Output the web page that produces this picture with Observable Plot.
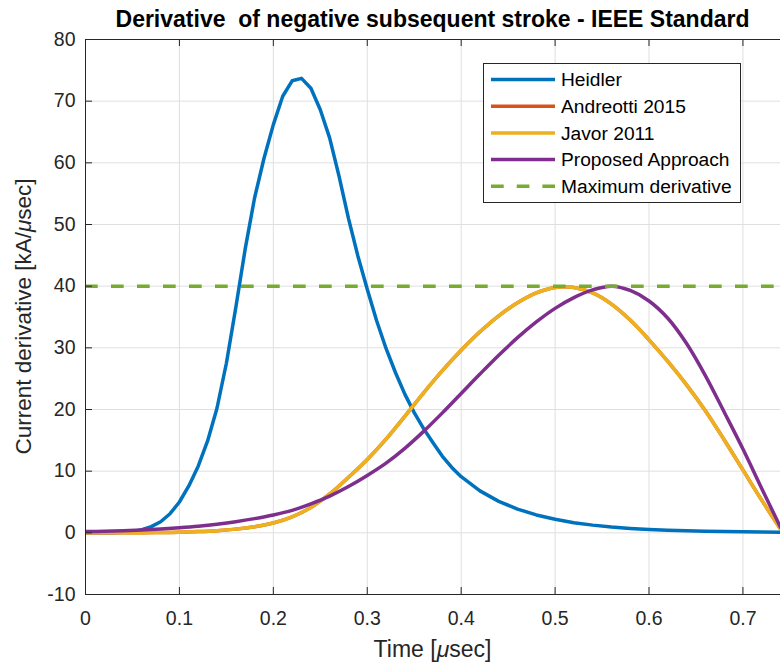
<!DOCTYPE html>
<html><head><meta charset="utf-8">
<script src="https://cdn.jsdelivr.net/npm/d3@7"></script>
<script src="https://cdn.jsdelivr.net/npm/@observablehq/plot@0.6"></script>
<style>body{margin:0;background:#fff} svg{display:block}</style>
</head><body><div id="chart"></div>
<script>
// Heidler (sampled every 0.01 µs up to 0.40, then every 0.02 µs)
const timeHeidler = [0,0.01,0.02,0.03,0.04,0.05,0.06,0.07,0.08,0.09,0.10,0.11,0.12,0.13,0.14,0.15,0.16,0.17,0.18,0.19,0.20,0.21,0.22,0.23,0.24,0.25,0.26,0.27,0.28,0.29,0.30,0.31,0.32,0.33,0.34,0.35,0.36,0.37,0.38,0.39,0.40,0.42,0.44,0.46,0.48,0.50,0.52,0.54,0.56,0.58,0.60,0.62,0.64,0.66,0.68,0.70,0.72,0.74];
const heidler = [0,0,0.01,0.03,0.08,0.2,0.5,1.0,1.8,3.1,5.0,7.6,10.8,14.9,20.2,27.5,36.5,46.0,54.3,60.7,66.2,70.8,73.3,73.7,72.1,68.6,64.0,57.8,51.0,44.9,39.5,34.4,29.9,26.0,22.5,19.5,16.9,14.6,12.4,10.6,9.1,6.8,5.1,3.85,2.9,2.2,1.65,1.25,0.95,0.72,0.55,0.42,0.33,0.26,0.21,0.17,0.14,0.11];

// Other models (sampled every 0.02 µs)
const time = [0,0.02,0.04,0.06,0.08,0.10,0.12,0.14,0.16,0.18,0.20,0.22,0.24,0.26,0.28,0.30,0.32,0.34,0.36,0.38,0.40,0.42,0.44,0.46,0.48,0.50,0.52,0.54,0.56,0.58,0.60,0.62,0.64,0.66,0.68,0.70,0.72,0.74];
const andreotti = [0,0,0,0.02,0.05,0.1,0.2,0.35,0.6,1.0,1.6,2.6,4.1,6.3,9.0,11.9,15.2,18.9,22.7,26.3,29.6,32.6,35.2,37.3,38.9,39.8,39.8,38.9,37.1,34.5,31.3,27.8,24.0,19.8,15.1,10.2,5.3,0.6];
const javor     = [0,0,0,0.02,0.05,0.1,0.2,0.35,0.6,1.0,1.6,2.6,4.1,6.3,9.0,11.9,15.2,18.9,22.7,26.3,29.6,32.6,35.2,37.3,38.9,39.8,39.8,38.9,37.1,34.5,31.3,27.8,24.0,19.8,15.1,10.2,5.3,0.6];
const proposed  = [0.2,0.25,0.33,0.45,0.62,0.83,1.08,1.4,1.8,2.3,2.9,3.65,4.7,5.95,7.5,9.3,11.3,13.7,16.45,19.45,22.6,25.75,28.8,31.65,34.2,36.4,38.15,39.4,40.0,39.3,37.6,34.8,30.7,25.5,19.6,13.6,7.2,0.9];
const maxDerivative = 40;

const seriesNames = ["Heidler","Andreotti 2015","Javor 2011","Proposed Approach","Maximum derivative"];
const seriesColors = ["#0072BD","#D95319","#EDB120","#7E2F8E","#77AC30"];
const xTicks = [0,0.1,0.2,0.3,0.4,0.5,0.6,0.7];
const yTicks = [-10,0,10,20,30,40,50,60,70,80];
const titleText = "Derivative  of negative subsequent stroke - IEEE Standard";
const xLabelParts = ["Time [","\u03bc","sec]"];
const yLabelParts = ["Current derivative [kA/","\u03bc","sec]"];

const rowsH = timeHeidler.map((t,i)=>({t, v: heidler[i]}));
const rowsA = time.map((t,i)=>({t, v: andreotti[i]}));
const rowsJ = time.map((t,i)=>({t, v: javor[i]}));
const rowsP = time.map((t,i)=>({t, v: proposed[i]}));

const W = 780, H = 664, mL = 85, mR = 0, mT = 39, mB = 70;
const fw = W - mL - mR, fh = H - mT - mB;
const axisColor = "#262626";
const lw = 3.5;
const font = "'Liberation Sans', Arial, Helvetica, sans-serif";

const plot = Plot.plot({
  width: W, height: H,
  marginLeft: mL, marginRight: mR, marginTop: mT, marginBottom: mB,
  style: {fontFamily: font, fontSize: "19.5px", color: axisColor, background: "#fff", overflow: "visible"},
  x: {domain: [0, 0.74]},
  y: {domain: [-10, 80]},
  marks: [
    Plot.gridX(xTicks, {stroke: "#dfdfdf", strokeOpacity: 1}),
    Plot.gridY(yTicks, {stroke: "#dfdfdf", strokeOpacity: 1}),
    Plot.line(rowsH, {x: "t", y: "v", stroke: seriesColors[0], strokeWidth: lw, clip: true}),
    Plot.line(rowsA, {x: "t", y: "v", stroke: seriesColors[1], strokeWidth: lw, curve: "catmull-rom", clip: true}),
    Plot.line(rowsJ, {x: "t", y: "v", stroke: seriesColors[2], strokeWidth: lw, curve: "catmull-rom", clip: true}),
    Plot.line(rowsP, {x: "t", y: "v", stroke: seriesColors[3], strokeWidth: lw, curve: "catmull-rom", clip: true}),
    Plot.ruleY([maxDerivative], {stroke: seriesColors[4], strokeWidth: lw, strokeDasharray: "12.7,13.3"}),
    Plot.ruleX([0], {stroke: axisColor}),
    Plot.ruleY([-10], {stroke: axisColor}),
    Plot.ruleY([80], {stroke: axisColor}),
    Plot.tickX(xTicks, {x: d => d, stroke: axisColor, insetTop: fh - 7}),
    Plot.tickX(xTicks, {x: d => d, stroke: axisColor, insetBottom: fh - 7}),
    Plot.tickY(yTicks, {y: d => d, stroke: axisColor, insetRight: fw - 7}),
    Plot.axisX(xTicks, {tickSize: 0, tickPadding: 17, tickFormat: d => String(d), label: null}),
    Plot.axisY(yTicks, {tickSize: 0, tickPadding: 10, tickFormat: d => String(d), label: null})
  ]
});
document.getElementById("chart").appendChild(plot);

const svg = d3.select(plot);
// Title
svg.append("text").attr("x", mL + fw/2).attr("y", 27).attr("text-anchor", "middle")
  .attr("font-family", font).attr("font-size", "23px").attr("font-weight", "bold").attr("fill", "#000")
  .text(titleText);
// X label
const xl = svg.append("text").attr("x", mL + fw/2).attr("y", 656.5).attr("text-anchor", "middle")
  .attr("font-family", font).attr("font-size", "23px").attr("fill", axisColor);
xl.append("tspan").text(xLabelParts[0]);
xl.append("tspan").attr("font-style", "italic").text(xLabelParts[1]);
xl.append("tspan").text(xLabelParts[2]);
// Y label
const yl = svg.append("text").attr("transform", `translate(31,${mT + fh/2}) rotate(-90)`).attr("text-anchor", "middle")
  .attr("font-family", font).attr("font-size", "22.5px").attr("fill", axisColor);
yl.append("tspan").text(yLabelParts[0]);
yl.append("tspan").attr("font-style", "italic").text(yLabelParts[1]);
yl.append("tspan").text(yLabelParts[2]);
// Legend
const lg = svg.append("g");
lg.append("rect").attr("x", 483.5).attr("y", 63.5).attr("width", 257).attr("height", 139)
  .attr("fill", "#fff").attr("stroke", axisColor).attr("stroke-width", 1);
seriesNames.forEach((n, i) => {
  const cy = 79.5 + i * 26.7;
  lg.append("line").attr("x1", 491).attr("x2", 555).attr("y1", cy).attr("y2", cy)
    .attr("stroke", seriesColors[i]).attr("stroke-width", lw)
    .attr("stroke-dasharray", i === 4 ? "12.7,13" : null);
  lg.append("text").attr("x", 561).attr("y", cy).attr("dy", "0.35em").attr("text-anchor", "start")
    .attr("font-family", font).attr("font-size", "19.2px").attr("fill", "#000").text(n);
});
</script>
</body></html>
